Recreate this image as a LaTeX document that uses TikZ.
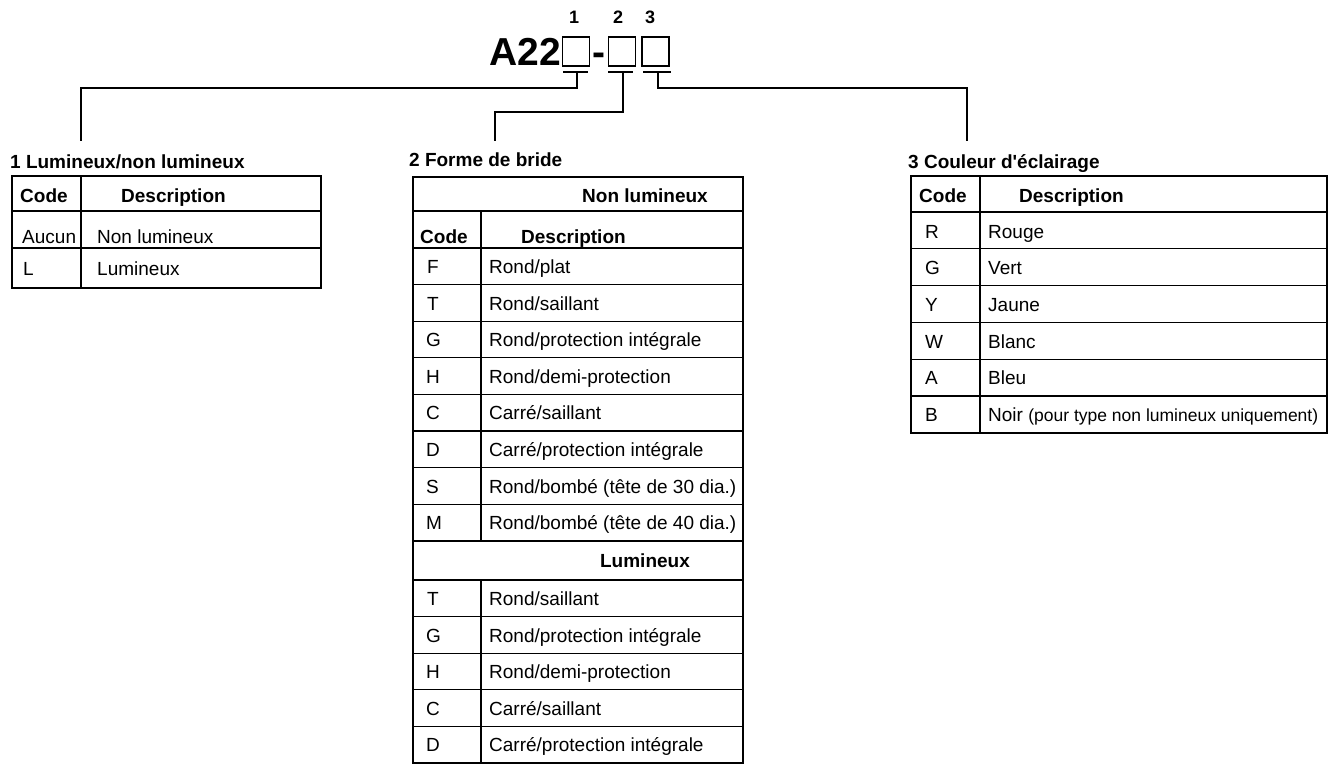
\documentclass[tikz,border=0pt]{standalone}
\usepackage{fontspec}
\setmainfont{Liberation Sans}
\usepackage{tikz}
\usetikzlibrary{positioning}

\tikzset{
    txt/.style={anchor=base west, inner sep=0pt, font=\fontsize{19}{22}\selectfont},
    hd/.style={anchor=base west, inner sep=0pt, font=\fontsize{19}{22}\selectfont\bfseries},
    big/.style={inner sep=0pt, font=\fontsize{39}{44}\selectfont\bfseries},
    num/.style={anchor=base, inner sep=0pt, font=\fontsize{18}{20}\selectfont\bfseries},
    slot/.style={draw, line width=1.3pt, minimum width=27pt, minimum height=29pt, inner sep=0pt},
    frame/.style={line width=2.6pt},
    sepline/.style={line width=2pt},
    rowline/.style={line width=1.2pt},
    link/.style={line width=1.2pt}
}

\begin{document}
\begin{tikzpicture}[x=1pt, y=-1pt]
    \useasboundingbox (0,0) rectangle (1334,773);

    % Order code A22[]-[][]
    \node[big, anchor=base east] (model) at (561,66) {A22};
    \node[slot] (b1) at (576,51.5) {};
    \node[slot, right=18pt of b1] (b2) {};
    \node[slot, right=5pt of b2] (b3) {};
    \node[big, anchor=base] (dash) at (599,66) {-};

    % Position numbers above the boxes
    \node[num] (n1) at (574,24) {1};
    \node[num] (n2) at (618,24) {2};
    \node[num] (n3) at (650,24) {3};

    % Underlines below the boxes
    \draw[link] (563,72) -- (588,72);
    \draw[link] (608,72) -- (633,72);
    \draw[link] (643,72) -- (671,72);
    \coordinate (u1) at (577,72);
    \coordinate (u2) at (623,72);
    \coordinate (u3) at (658,72);

    % Leader lines to the three tables
    \coordinate (e1) at (81,141);
    \coordinate (e2) at (495,141);
    \coordinate (e3) at (967,141);
    \draw[link] (u1) -- ++(0,16) -| (e1);
    \draw[link] (u2) -- ++(0,40) -| (e2);
    \draw[link] (u3) -- ++(0,16) -| (e3);

    % Table 1: Lumineux/non lumineux
    \node[hd] (t1) at (10,168) {1 Lumineux/non lumineux};
    \draw[sepline] (12,211) -- (321,211);
    \draw[rowline] (12,248) -- (321,248);
    \draw[rowline] (81,176) -- (81,288);
    \draw[frame] (12,176) rectangle (321,288);
    \node[hd] (t1code) at (20,202) {Code};
    \node[hd] (t1desc) at (121,202) {Description};
    \node[txt] (t1a) at (22,243) {Aucun};
    \node[txt] (t1ad) at (97,243) {Non lumineux};
    \node[txt] (t1l) at (23,275) {L};
    \node[txt] (t1ld) at (97,275) {Lumineux};

    % Table 2: Forme de bride
    \node[hd] (t2) at (409,167) {2 Forme de bride};
    \draw[sepline] (413,211) -- (743,211);
    \draw[sepline] (413,248) -- (743,248);
    \draw[rowline] (413,284.6) -- (743,284.6);
    \draw[rowline] (413,321.2) -- (743,321.2);
    \draw[rowline] (413,357.8) -- (743,357.8);
    \draw[rowline] (413,394.4) -- (743,394.4);
    \draw[rowline] (413,431) -- (743,431);
    \draw[rowline] (413,467.6) -- (743,467.6);
    \draw[rowline] (413,504.2) -- (743,504.2);
    \draw[sepline] (413,541) -- (743,541);
    \draw[sepline] (413,580) -- (743,580);
    \draw[rowline] (413,616.6) -- (743,616.6);
    \draw[rowline] (413,653.2) -- (743,653.2);
    \draw[rowline] (413,689.8) -- (743,689.8);
    \draw[rowline] (413,726.4) -- (743,726.4);
    \draw[rowline] (481,211) -- (481,541);
    \draw[rowline] (481,580) -- (481,763);
    \draw[frame] (413,177) rectangle (743,763);
    \node[hd, anchor=base] (t2non) at (645,202) {Non lumineux};
    \node[hd] (t2code) at (420,243) {Code};
    \node[hd] (t2desc) at (521,243) {Description};
    % Non lumineux rows
    \node[txt] (t2f) at (427,273) {F};
    \node[txt] (t2fd) at (489,273) {Rond/plat};
    \node[txt] (t2t) at (427,310) {T};
    \node[txt] (t2td) at (489,310) {Rond/saillant};
    \node[txt] (t2g) at (426,346.5) {G};
    \node[txt] (t2gd) at (489,346.5) {Rond/protection intégrale};
    \node[txt] (t2h) at (426,383) {H};
    \node[txt] (t2hd) at (489,383) {Rond/demi-protection};
    \node[txt] (t2c) at (426,419.7) {C};
    \node[txt] (t2cd) at (489,419.7) {Carré/saillant};
    \node[txt] (t2d) at (426,456.3) {D};
    \node[txt] (t2dd) at (489,456.3) {Carré/protection intégrale};
    \node[txt] (t2s) at (426,493) {S};
    \node[txt] (t2sd) at (489,493) {Rond/bombé (tête de 30 dia.)};
    \node[txt] (t2m) at (426,529.5) {M};
    \node[txt] (t2md) at (489,529.5) {Rond/bombé (tête de 40 dia.)};
    % Lumineux rows
    \node[hd, anchor=base] (t2lum) at (645,567.5) {Lumineux};
    \node[txt] (t2lt) at (427,605.3) {T};
    \node[txt] (t2ltd) at (489,605.3) {Rond/saillant};
    \node[txt] (t2lg) at (426,642) {G};
    \node[txt] (t2lgd) at (489,642) {Rond/protection intégrale};
    \node[txt] (t2lh) at (426,678.5) {H};
    \node[txt] (t2lhd) at (489,678.5) {Rond/demi-protection};
    \node[txt] (t2lc) at (426,715) {C};
    \node[txt] (t2lcd) at (489,715) {Carré/saillant};
    \node[txt] (t2ld) at (426,751.7) {D};
    \node[txt] (t2ldd) at (489,751.7) {Carré/protection intégrale};

    % Table 3: Couleur d'eclairage
    \node[hd] (t3) at (908,168) {3 Couleur d\textquotesingle éclairage};
    \draw[sepline] (911,212) -- (1327,212);
    \draw[rowline] (911,248.8) -- (1327,248.8);
    \draw[rowline] (911,285.6) -- (1327,285.6);
    \draw[rowline] (911,322.4) -- (1327,322.4);
    \draw[rowline] (911,359.2) -- (1327,359.2);
    \draw[rowline] (911,396) -- (1327,396);
    \draw[rowline] (980,176) -- (980,433);
    \draw[frame] (911,176) rectangle (1327,433);
    \node[hd] (t3code) at (919,202) {Code};
    \node[hd] (t3desc) at (1019,202) {Description};
    \node[txt] (t3r) at (925,238) {R};
    \node[txt] (t3rd) at (988,238) {Rouge};
    \node[txt] (t3g) at (925,274.5) {G};
    \node[txt] (t3gd) at (988,274.5) {Vert};
    \node[txt] (t3y) at (925,311) {Y};
    \node[txt] (t3yd) at (988,311) {Jaune};
    \node[txt] (t3w) at (925,348) {W};
    \node[txt] (t3wd) at (988,348) {Blanc};
    \node[txt] (t3a) at (925,384.6) {A};
    \node[txt] (t3ad) at (988,384.6) {Bleu};
    \node[txt] (t3b) at (925,421.4) {B};
    \node[txt] (t3bd) at (988,421.4) {Noir {\fontsize{17.5}{20}\selectfont(pour type non lumineux uniquement)}};
\end{tikzpicture}
\end{document}
